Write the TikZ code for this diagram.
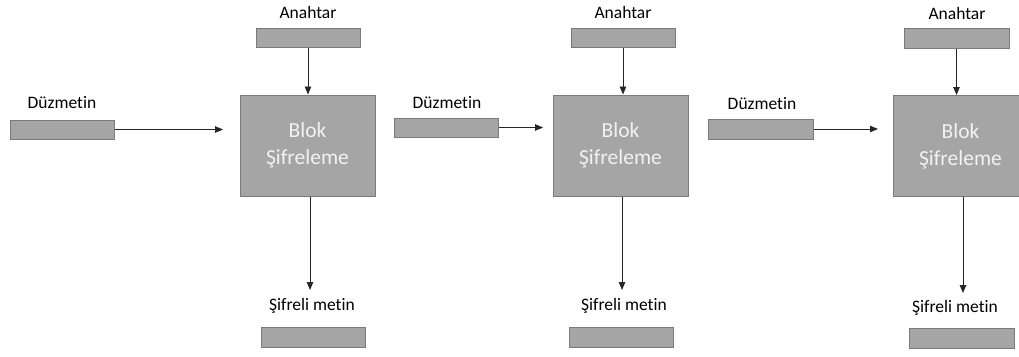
\documentclass[tikz,border=0pt]{standalone}
\usepackage{fontspec}
\setmainfont{Carlito}[Ligatures=NoCommon]
\usetikzlibrary{arrows.meta}
\definecolor{boxfill}{HTML}{A5A5A5}
\definecolor{boxedge}{HTML}{7A7A7A}
\definecolor{linecol}{HTML}{262626}
\tikzset{
  databox/.style={draw=boxedge, fill=boxfill, line width=1pt, minimum width=104pt, minimum height=19pt, inner sep=0pt},
  cipherbox/.style={draw=boxedge, fill=boxfill, line width=1pt, minimum width=135pt, minimum height=101pt, inner sep=0pt,
    text=white!95!black, align=center, font=\fontsize{21.5}{27}\selectfont},
  lbl/.style={inner sep=0pt, font=\fontsize{17.5}{20}\selectfont, text=black},
  flow/.style={draw=linecol, line width=0.9pt, -{Triangle[length=8pt,width=6.5pt]}}
}
\begin{document}
\begin{tikzpicture}[x=1pt, y=-1pt]
\useasboundingbox (0,0) rectangle (1019,356);
\clip (0,0) rectangle (1019,356);

% first stage
\node[lbl] (dl1) at (62,103) {Düzmetin};
\node[databox] (d1) at (62,129.5) {};
\node[lbl] (al1) at (308,12) {Anahtar};
\node[databox] (a1) at (308,37.5) {};
\node[cipherbox] (b1) at (307.5,145.5) {\raisebox{-2pt}{Blok}\\\raisebox{-2pt}{Şifreleme}};
\coordinate (p1) at (223,129.5);
\coordinate (q1) at (310,290);
\node[lbl] (sl1) at (312,306) {Şifreli metin};
\node[databox, minimum height=20pt] (e1) at (313,337) {};
\draw[flow] (d1) -- (p1);
\draw[flow] (a1) -- (a1 |- b1.north);
\draw[flow] (q1 |- b1.south) -- (q1);

% second stage
\node[lbl] (dl2) at (447,103) {Düzmetin};
\node[databox] (d2) at (446.5,127.5) {};
\node[lbl] (al2) at (623,12) {Anahtar};
\node[databox] (a2) at (623,37.5) {};
\node[cipherbox] (b2) at (620.5,145.5) {\raisebox{-2pt}{Blok}\\\raisebox{-2pt}{Şifreleme}};
\coordinate (p2) at (543,127.5);
\coordinate (q2) at (622,290);
\node[lbl] (sl2) at (624,306) {Şifreli metin};
\node[databox, minimum height=20pt] (e2) at (621.5,337) {};
\draw[flow] (d2) -- (p2);
\draw[flow] (a2) -- (a2 |- b2.north);
\draw[flow] (q2 |- b2.south) -- (q2);

% third stage
\node[lbl] (dl3) at (762,104) {Düzmetin};
\node[databox, minimum width=105pt, minimum height=20pt] (d3) at (760.5,129) {};
\node[lbl] (al3) at (957,13) {Anahtar};
\node[databox, minimum width=105pt, minimum height=20pt] (a3) at (956.5,38) {};
\node[cipherbox] (b3) at (960.5,146) {\raisebox{-2pt}{Blok}\\\raisebox{-2pt}{Şifreleme}};
\coordinate (p3) at (878,129);
\coordinate (q3) at (963,293);
\node[lbl] (sl3) at (955,308) {Şifreli metin};
\node[databox, minimum width=105pt, minimum height=20pt] (e3) at (961.5,338) {};
\draw[flow] (d3) -- (p3);
\draw[flow] (a3) -- (a3 |- b3.north);
\draw[flow] (q3 |- b3.south) -- (q3);
\end{tikzpicture}
\end{document}
